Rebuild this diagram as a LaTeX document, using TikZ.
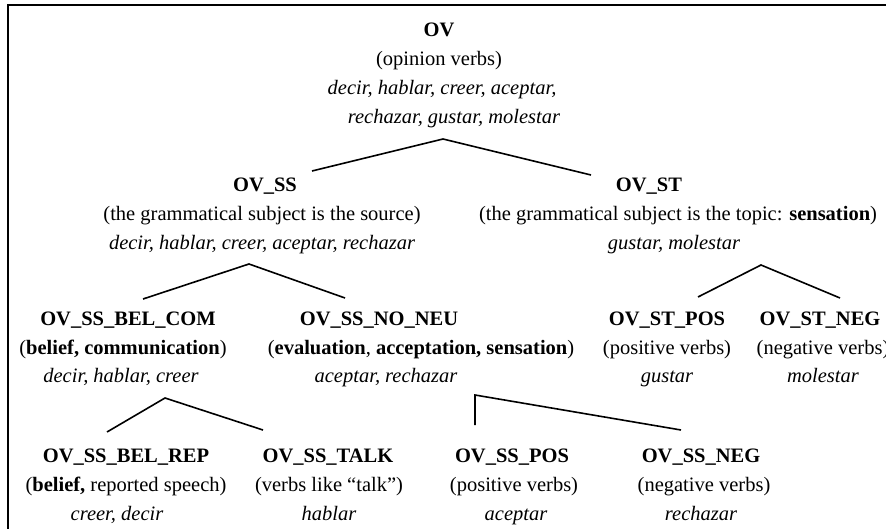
\documentclass[tikz,border=0pt]{standalone}
\usepackage{fontspec}
\setmainfont{Liberation Serif}
\tikzset{
	every node/.style={inner sep=0pt, anchor=base, font=\fontsize{20.5}{24}\selectfont},
	cattitle/.style={font=\fontsize{20.5}{24}\selectfont\bfseries},
	catverbs/.style={font=\fontsize{20.5}{24}\selectfont\itshape},
	branch/.style={line width=1.6pt},
	frameline/.style={line width=2pt}
}
\begin{document}
\begin{tikzpicture}[x=1pt,y=-1pt]
	\useasboundingbox (0,0) rectangle (886,529);

	% frame
	\coordinate (fr1) at (8,529);
	\coordinate (fr2) at (8,5);
	\coordinate (fr3) at (886,5);
	\draw[frameline] (fr1) -- (fr2) -- (fr3);

	% root
	\node[cattitle] (ov) at (439,37) {OV};
	\node (ovd) at (439,66) {(opinion verbs)};
	\node[catverbs] (ovv1) at (442,95) {decir, hablar, creer, aceptar,};
	\node[catverbs] (ovv2) at (454,124) {rechazar, gustar, molestar};

	% second level
	\node[cattitle] (ovss) at (265,192) {OV\_SS};
	\node (ovssd) at (262,221) {(the grammatical subject is the source)};
	\node[catverbs] (ovssv) at (262,250) {decir, hablar, creer, aceptar, rechazar};
	\node[cattitle] (ovst) at (649,192) {OV\_ST};
	\node (ovstd) at (678,221) {(the grammatical subject is the topic: \textbf{sensation})};
	\node[catverbs] (ovstv) at (674,250) {gustar, molestar};

	% third level
	\node[cattitle] (belcom) at (128,326) {OV\_SS\_BEL\_COM};
	\node (belcomd) at (123,354) {(\textbf{belief, communication})};
	\node[catverbs] (belcomv) at (121,382) {decir, hablar, creer};
	\node[cattitle] (noneu) at (379,326) {OV\_SS\_NO\_NEU};
	\node (noneud) at (421,354) {(\textbf{evaluation}, \textbf{acceptation, sensation})};
	\node[catverbs] (noneuv) at (386,382) {aceptar, rechazar};
	\node[cattitle] (stpos) at (667,326) {OV\_ST\_POS};
	\node (stposd) at (667,354) {(positive verbs)};
	\node[catverbs] (stposv) at (667,382) {gustar};
	\node[cattitle] (stneg) at (820,326) {OV\_ST\_NEG};
	\node (stnegd) at (823,354) {(negative verbs)};
	\node[catverbs] (stnegv) at (823,382) {molestar};

	% fourth level
	\node[cattitle] (belrep) at (126,462) {OV\_SS\_BEL\_REP};
	\node (belrepd) at (126,491) {(\textbf{belief,} reported speech)};
	\node[catverbs] (belrepv) at (117,520) {creer, decir};
	\node[cattitle] (talk) at (328,462) {OV\_SS\_TALK};
	\node (talkd) at (329,491) {(verbs like “talk”)};
	\node[catverbs] (talkv) at (329,520) {hablar};
	\node[cattitle] (sspos) at (512,462) {OV\_SS\_POS};
	\node (ssposd) at (514,491) {(positive verbs)};
	\node[catverbs] (ssposv) at (516,520) {aceptar};
	\node[cattitle] (ssneg) at (701,462) {OV\_SS\_NEG};
	\node (ssnegd) at (704,491) {(negative verbs)};
	\node[catverbs] (ssnegv) at (701,520) {rechazar};

	% branch points
	\coordinate (ov-a) at (443,139);
	\coordinate (ov-l) at (312,171);
	\coordinate (ov-r) at (591,175);
	\coordinate (ss-a) at (249,264);
	\coordinate (ss-l) at (143,299);
	\coordinate (ss-r) at (345,298);
	\coordinate (st-a) at (761,265);
	\coordinate (st-l) at (698,297);
	\coordinate (st-r) at (840,298);
	\coordinate (bc-a) at (165,398);
	\coordinate (bc-l) at (107,432);
	\coordinate (bc-r) at (263,430);
	\coordinate (nn-a) at (475,395);
	\coordinate (nn-l) at (475,425);
	\coordinate (nn-r) at (681,430);

	\foreach \b in {ov,ss,st,bc,nn}
	{
		\draw[branch] (\b-l) -- (\b-a) -- (\b-r);
	};
\end{tikzpicture}
\end{document}
